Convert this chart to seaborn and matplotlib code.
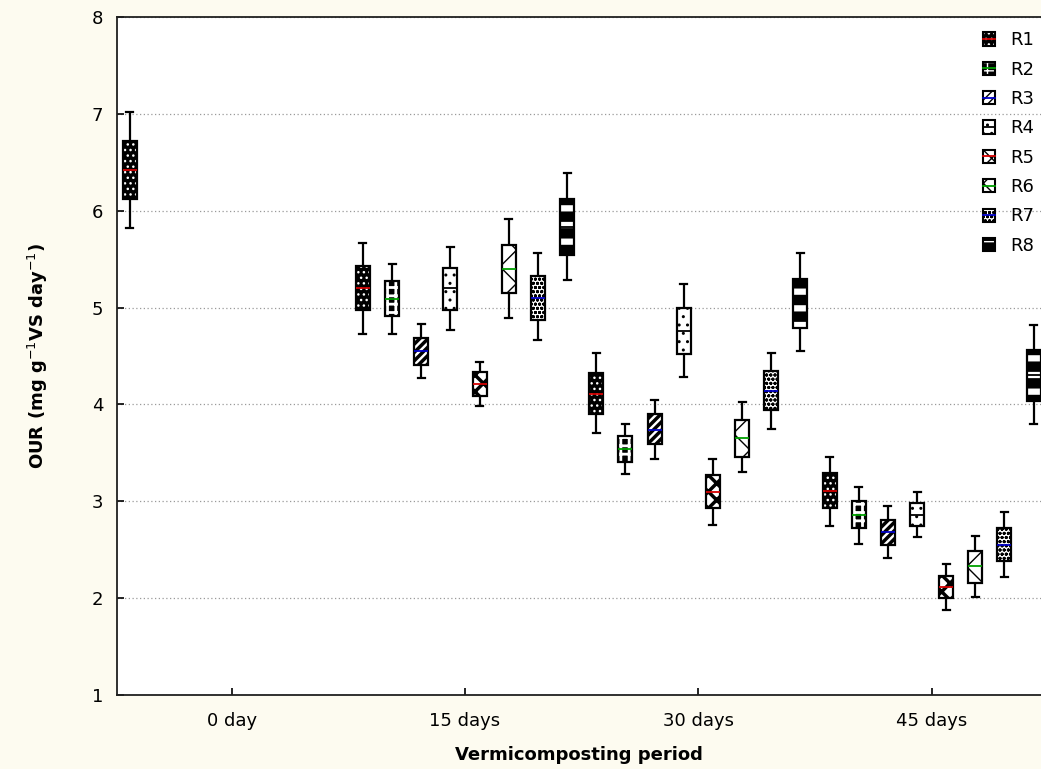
import numpy as np
import pandas as pd
import matplotlib
matplotlib.use("Agg")
import matplotlib.pyplot as plt
import seaborn as sns
from matplotlib.patches import Patch
from matplotlib.lines import Line2D
from matplotlib.legend_handler import HandlerTuple

# ---------------- data ----------------
periods = ["0 day", "15 days", "30 days", "45 days"]
reactors = ["R1", "R2", "R3", "R4", "R5", "R6", "R7", "R8"]
# five-number summaries per period: [lower whisker, box bottom, median, box top, upper whisker]
R1 = [[5.82, 6.12, 6.42, 6.72, 7.02], [4.73, 4.97, 5.20, 5.43, 5.67], [3.70, 3.90, 4.11, 4.32, 4.53], [2.75, 2.93, 3.11, 3.29, 3.46]]
R2 = [None, [4.73, 4.91, 5.09, 5.27, 5.45], [3.28, 3.41, 3.54, 3.67, 3.80], [2.56, 2.72, 2.86, 3.00, 3.15]]
R3 = [None, [4.27, 4.41, 4.55, 4.69, 4.83], [3.44, 3.59, 3.74, 3.90, 4.05], [2.41, 2.55, 2.68, 2.81, 2.95]]
R4 = [None, [4.77, 4.98, 5.20, 5.41, 5.63], [4.28, 4.52, 4.76, 5.00, 5.24], [2.63, 2.74, 2.86, 2.98, 3.10]]
R5 = [None, [3.98, 4.09, 4.21, 4.33, 4.44], [2.76, 2.93, 3.10, 3.27, 3.44], [1.88, 2.00, 2.12, 2.23, 2.35]]
R6 = [None, [4.89, 5.15, 5.40, 5.65, 5.91], [3.30, 3.46, 3.65, 3.84, 4.02], [2.01, 2.16, 2.33, 2.49, 2.64]]
R7 = [None, [4.67, 4.87, 5.10, 5.33, 5.56], [3.75, 3.94, 4.14, 4.34, 4.53], [2.22, 2.38, 2.55, 2.72, 2.89]]
R8 = [None, [5.28, 5.54, 5.83, 6.12, 6.39], [4.55, 4.79, 5.05, 5.30, 5.56], [3.80, 4.04, 4.30, 4.56, 4.82]]
summaries = {"R1": R1, "R2": R2, "R3": R3, "R4": R4, "R5": R5, "R6": R6, "R7": R7, "R8": R8}

rows = []
for r in reactors:
    for p, s in zip(periods, summaries[r]):
        if s is None:
            continue
        for v in s:
            rows.append({"period": p, "reactor": r, "OUR": v})
df = pd.DataFrame(rows)

# ---------------- styles ----------------
face = {"R1": "black", "R2": "black", "R3": "white", "R4": "white",
        "R5": "white", "R6": "white", "R7": "white", "R8": "black"}
hatch = {"R1": "...", "R2": "++", "R3": "////", "R4": "..",
         "R5": "xx", "R6": "x", "R7": "oooo", "R8": "-"}
hcol = {"R1": "white", "R2": "white", "R3": "black", "R4": "black",
        "R5": "black", "R6": "black", "R7": "black", "R8": "white"}
hlw = {"R1": 1.0, "R2": 2.0, "R3": 2.5, "R4": 1.0,
       "R5": 2.5, "R6": 1.0, "R7": 1.0, "R8": 4.5}
medcol = {"R1": "#d40000", "R2": "#00a000", "R3": "#0000c8", "R4": "black",
          "R5": "#d40000", "R6": "#00a000", "R7": "#0000c8", "R8": "black"}

bg = "#FDFBF0"
plt.rcParams["font.family"] = ["DejaVu Sans"]
fig = plt.figure(figsize=(10.41, 7.69), dpi=100, facecolor=bg)
ax = fig.add_axes([117 / 1041, 1 - 695 / 769, 1 - 117 / 1041, (695 - 17) / 769])
ax.set_facecolor("white")

to_rgba = matplotlib.colors.to_rgba
for r in reactors:
    sub = df[df.reactor == r]
    n0 = len(ax.patches)
    with plt.rc_context({"hatch.linewidth": hlw[r]}):
        sns.boxplot(data=sub, x="period", y="OUR", hue="reactor", order=periods,
                    hue_order=reactors, palette=face, width=1.0, gap=0.52,
                    whis=(0, 100), dodge=True, linecolor="black", linewidth=1.6,
                    showfliers=False, legend=False, ax=ax,
                    medianprops=dict(color=medcol[r], linewidth=1.3))
    for patch in ax.patches[n0:]:
        patch.set_hatch(hatch[r])
        if hasattr(patch, "set_hatch_linewidth"):
            patch.set_hatch_linewidth(hlw[r])
        patch._hatch_color = to_rgba(hcol[r])

ax.set_xlim(-0.4916, 3.469)
ax.set_ylim(1, 8)
ax.set_yticks(range(1, 9))
ax.set_xticks(range(len(periods)))
ax.set_xticklabels(periods)
ax.yaxis.grid(True, linestyle=(0, (1, 2)), color="#9a9a9a", linewidth=0.9)
ax.xaxis.grid(False)
ax.set_axisbelow(True)
for s in ["left", "bottom", "top"]:
    ax.spines[s].set_color("#202020")
    ax.spines[s].set_linewidth(1.3)
ax.spines["right"].set_visible(False)
ax.tick_params(axis="both", direction="in", length=5, width=1.2, colors="black",
               labelsize=13)
ax.tick_params(axis="y", pad=10)
ax.tick_params(axis="x", pad=12)
ax.set_xlabel("Vermicomposting period", fontsize=13, fontweight="bold", labelpad=12)
ax.set_ylabel(r"OUR (mg g$^{-1}$VS day$^{-1}$)", fontsize=13, fontweight="bold", labelpad=30)

handles = []
for r in reactors:
    p = Patch(facecolor=face[r], edgecolor="black", hatch=hatch[r], linewidth=1.5)
    if hasattr(p, "set_hatch_linewidth"):
        p.set_hatch_linewidth(min(hlw[r], 2.0))
    p._hatch_color = to_rgba(hcol[r])
    ln = Line2D([0], [0], color=medcol[r], linewidth=1.3)
    handles.append((p, ln))
leg = fig.legend(handles, reactors,
                 handler_map={tuple: HandlerTuple(ndivide=1, pad=0)},
                 loc="upper left", bbox_to_anchor=(976 / 1041, 1 - 24 / 769),
                 frameon=False, fontsize=13, handlelength=0.65, handleheight=0.75,
                 handletextpad=0.85, labelspacing=0.63, borderaxespad=0)

fig.savefig("out.png", dpi=100, facecolor=bg)
